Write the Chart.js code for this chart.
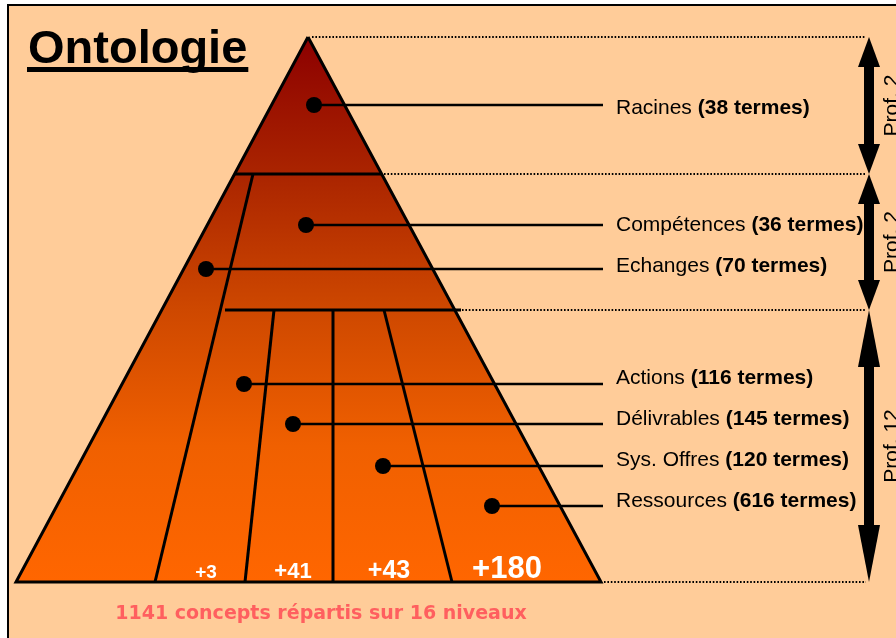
<!DOCTYPE html>
<html>
<head>
<meta charset="utf-8">
<script src="https://cdn.jsdelivr.net/npm/chart.js@4.4.1/dist/chart.umd.min.js"></script>
<style>
  html, body { margin: 0; padding: 0; background: #fff; overflow: hidden; }
  #frame { position: absolute; left: 7px; top: 4px; width: 1000px; height: 1000px;
           background: #FFCC99; border: 2px solid #000; }
  #wrap { position: absolute; left: 0; top: 0; width: 896px; height: 638px; }
</style>
</head>
<body>
<div id="frame"></div>
<div id="wrap"><canvas id="onto" width="896" height="638"></canvas></div>
<script>
// données
const branches = ['Racines', 'Compétences', 'Echanges', 'Actions', 'Délivrables', 'Sys. Offres', 'Ressources'];
const termes = [38, 36, 70, 116, 145, 120, 616];
const ajouts = [3, 41, 43, 180];
const profondeurs = [2, 2, 12];
const totalConcepts = 1141;
const totalNiveaux = 16;

// mise en page (unités = pixels du dessin)
const apex = { x: 308, y: 37 };
const base = { left: 16, right: 601, y: 582 };
const niveauxY = [37, 174, 310, 582];
const separations = [
  [235, 174, 382, 174],
  [225, 310, 461, 310],
  [253, 174, 155, 582],
  [274, 310, 245, 582],
  [333, 310, 333, 582],
  [384, 310, 452, 582]
];
const points = [[314, 105], [306, 225], [206, 269], [244, 384], [293, 424], [383, 466], [492, 506]];
const labelY = [108, 225, 266, 378, 419, 460, 501];
const labelX = 616, finTrait = 603;
const ajoutX = [206, 293, 389, 507], ajoutTaille = [19, 22, 25, 31];
const flecheX = 869, pointeLong = [30, 30, 57];
const pointillesDebut = [312, 384, 462, 604];

const black = '#000';

function degrade(c) {
  const chart = c.chart;
  const y = chart.scales && chart.scales.y;
  if (!y) return '#FF6600';
  const y0 = y.getPixelForValue(apex.y), y1 = y.getPixelForValue(base.y);
  if (!Number.isFinite(y0) || !Number.isFinite(y1)) return '#FF6600';
  const g = chart.ctx.createLinearGradient(0, y0, 0, y1);
  g.addColorStop(0, 'rgb(140,0,0)');
  g.addColorStop(0.25, 'rgb(170,36,0)');
  g.addColorStop(0.5, 'rgb(206,72,0)');
  g.addColorStop(0.75, 'rgb(240,96,0)');
  g.addColorStop(1, 'rgb(255,102,0)');
  return g;
}

const datasets = [];

// pyramide
datasets.push({
  data: [{ x: apex.x, y: apex.y }, { x: base.right, y: base.y }, { x: base.left, y: base.y }, { x: apex.x, y: apex.y }],
  fill: 'shape', backgroundColor: degrade, borderColor: black, borderWidth: 3,
  borderJoinStyle: 'miter', pointRadius: 0, order: 10
});

// séparations internes
separations.forEach(s => datasets.push({
  data: [{ x: s[0], y: s[1] }, { x: s[2], y: s[3] }],
  borderColor: black, borderWidth: 3, pointRadius: 0, fill: false, order: 8
}));

// pointillés
niveauxY.forEach((ny, i) => datasets.push({
  data: [{ x: pointillesDebut[i], y: ny }, { x: flecheX - 3, y: ny }],
  borderColor: black, borderWidth: 1.8, borderDash: [1.6, 1.8], pointRadius: 0, fill: false, order: 7
}));

// traits de rappel + points
points.forEach(p => datasets.push({
  data: [{ x: p[0], y: p[1] }, { x: finTrait, y: p[1] }],
  borderColor: black, borderWidth: 2.5, pointRadius: [8, 0], pointBackgroundColor: black,
  pointBorderWidth: 0, fill: false, order: 1
}));

// flèches de profondeur
profondeurs.forEach((p, i) => {
  const top = niveauxY[i], bot = niveauxY[i + 1], L = pointeLong[i];
  datasets.push({
    data: [{ x: flecheX, y: top + L - 2 }, { x: flecheX, y: bot - L + 2 }],
    borderColor: black, borderWidth: 10, borderCapStyle: 'butt', pointRadius: 0, fill: false, order: 2
  });
  datasets.push({
    data: [{ x: flecheX, y: top }, { x: flecheX + 11, y: top + L }, { x: flecheX - 11, y: top + L }, { x: flecheX, y: top }],
    fill: 'shape', backgroundColor: black, borderWidth: 0, pointRadius: 0, order: 2
  });
  datasets.push({
    data: [{ x: flecheX, y: bot }, { x: flecheX + 11, y: bot - L }, { x: flecheX - 11, y: bot - L }, { x: flecheX, y: bot }],
    fill: 'shape', backgroundColor: black, borderWidth: 0, pointRadius: 0, order: 2
  });
});

const textes = {
  id: 'textes',
  afterDatasetsDraw(chart) {
    const { ctx, scales: { x, y } } = chart;
    ctx.save();

    // titre souligné
    ctx.fillStyle = black;
    ctx.font = 'bold 47px "Liberation Sans", Arial, sans-serif';
    ctx.textAlign = 'left';
    ctx.textBaseline = 'alphabetic';
    const tx = x.getPixelForValue(28), ty = y.getPixelForValue(63);
    ctx.fillText('Ontologie', tx, ty);
    const tw = ctx.measureText('Ontologie').width;
    ctx.fillRect(tx - 1, ty + 4, tw + 2, 5);

    // étiquettes des branches
    branches.forEach((b, i) => {
      const px = x.getPixelForValue(labelX), py = y.getPixelForValue(labelY[i]);
      ctx.textBaseline = 'middle';
      ctx.font = '21px "Liberation Sans", Arial, sans-serif';
      ctx.fillText(b + ' ', px, py);
      const w = ctx.measureText(b + ' ').width;
      ctx.font = 'bold 21px "Liberation Sans", Arial, sans-serif';
      ctx.fillText('(' + termes[i] + ' termes)', px + w, py);
    });

    // ajouts en bas de la pyramide
    ctx.fillStyle = '#fff';
    ctx.textAlign = 'center';
    ctx.textBaseline = 'alphabetic';
    ajouts.forEach((a, i) => {
      ctx.font = 'bold ' + ajoutTaille[i] + 'px "Liberation Sans", Arial, sans-serif';
      ctx.fillText('+' + a, x.getPixelForValue(ajoutX[i]), y.getPixelForValue(578));
    });

    // légende du bas
    ctx.fillStyle = '#FF5F5F';
    ctx.font = 'bold 19px "DejaVu Sans", sans-serif';
    ctx.fillText(totalConcepts + ' concepts répartis sur ' + totalNiveaux + ' niveaux',
      x.getPixelForValue(321), y.getPixelForValue(619));

    // profondeurs
    ctx.fillStyle = black;
    ctx.font = '21px "Liberation Sans", Arial, sans-serif';
    profondeurs.forEach((p, i) => {
      const cy = y.getPixelForValue((niveauxY[i] + niveauxY[i + 1]) / 2);
      ctx.save();
      ctx.translate(x.getPixelForValue(898), cy);
      ctx.rotate(-Math.PI / 2);
      ctx.textAlign = 'center';
      ctx.fillText('Prof. ' + p, 0, 0);
      ctx.restore();
    });

    ctx.restore();
  }
};

new Chart(document.getElementById('onto'), {
  type: 'line',
  data: { datasets },
  options: {
    responsive: false,
    animation: false,
    devicePixelRatio: 1,
    layout: { padding: 0, autoPadding: false },
    scales: {
      x: { type: 'linear', min: 0, max: 896, display: false },
      y: { type: 'linear', min: 0, max: 638, reverse: true, display: false }
    },
    plugins: { legend: { display: false }, tooltip: { enabled: false } }
  },
  plugins: [textes]
});
</script>
</body>
</html>
